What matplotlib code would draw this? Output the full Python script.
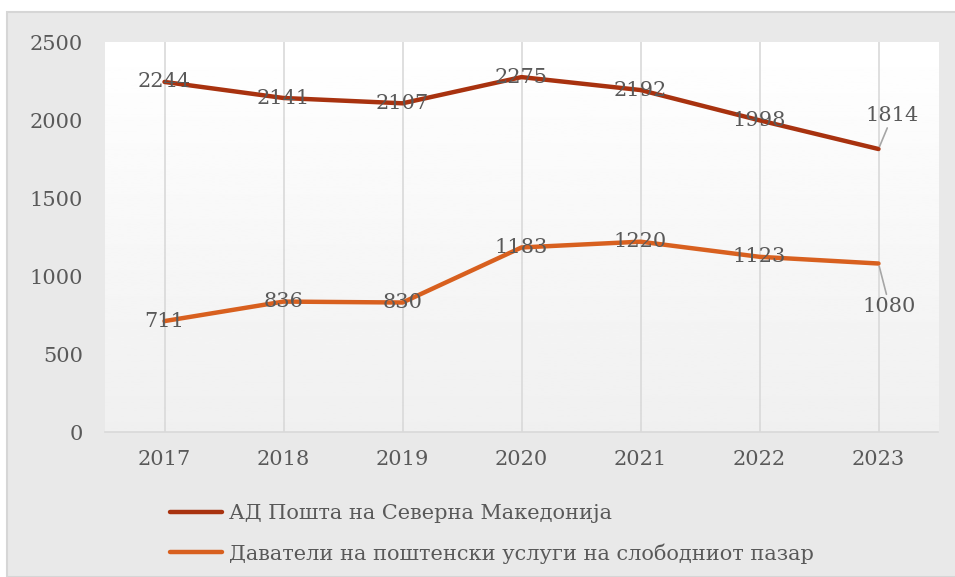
import numpy as np
import matplotlib
matplotlib.use("Agg")
import matplotlib.pyplot as plt
from matplotlib.patches import Rectangle
from matplotlib.lines import Line2D

years = ["2017", "2018", "2019", "2020", "2021", "2022", "2023"]
posta = [2244, 2141, 2107, 2275, 2192, 1998, 1814]
free_market = [711, 836, 830, 1183, 1220, 1123, 1080]
series_names = ["АД Пошта на Северна Македонија",
                "Даватели на поштенски услуги на слободниот пазар"]
colors = ["#a8320f", "#d8601f"]
text_col = "#595959"
fs = 15

plt.rcParams["font.family"] = ["DejaVu Serif"]

fig = plt.figure(figsize=(9.55, 5.77), dpi=100)
fig.patch.set_facecolor("white")
fig.patches.append(Rectangle((7 / 955, 0), 1, 1 - 12 / 577, transform=fig.transFigure,
                             facecolor="#e9e9e9", edgecolor="#d6d6d6", lw=1.5, zorder=-10))

ax = fig.add_axes([105 / 955, 1 - 432 / 577, 833 / 955, 390 / 577])
ax.set_zorder(1)
x = np.arange(len(years))
ax.set_xlim(-0.5, len(years) - 0.5)
ax.set_ylim(0, 2500)

# plot area gradient
grad = np.linspace(1.0, 0.94, 256).reshape(-1, 1)
ax.imshow(grad, cmap="gray", vmin=0, vmax=1, aspect="auto",
          extent=(-0.5, len(years) - 0.5, 0, 2500), zorder=0)

for xi in x:
    ax.axvline(xi, color="#d9d9d9", lw=1.2, zorder=1)

for s in ["top", "right", "left"]:
    ax.spines[s].set_visible(False)
ax.spines["bottom"].set_color("#d9d9d9")
ax.spines["bottom"].set_linewidth(1.2)

for vals, c in zip([posta, free_market], colors):
    ax.plot(x, vals, color=c, lw=3.2, solid_capstyle="round",
            solid_joinstyle="round", zorder=3)

ax.set_xticks(x)
ax.set_xticklabels(years)
ax.set_yticks(np.arange(0, 2501, 500))
ax.tick_params(length=0, labelsize=fs, colors=text_col)
ax.tick_params(axis="y", pad=16)
ax.tick_params(axis="x", pad=13)

# data labels, centred on the points
for vals in [posta, free_market]:
    for i, v in enumerate(vals[:-1]):
        ax.text(x[i], v, str(v), ha="center", va="center", fontsize=fs,
                color=text_col, zorder=4)

leader = dict(arrowstyle="-", color="#a6a6a6", lw=1.2, shrinkA=0, shrinkB=2)
ax.annotate(str(posta[-1]), (x[-1], posta[-1]), xytext=(10, 24),
            textcoords="offset points", ha="center", va="center", fontsize=fs,
            color=text_col, arrowprops=leader, zorder=4)
ax.annotate(str(free_market[-1]), (x[-1], free_market[-1]), xytext=(8, -31),
            textcoords="offset points", ha="center", va="center", fontsize=fs,
            color=text_col, arrowprops=leader, zorder=4)

handles = [Line2D([], [], color=c, lw=3.2, solid_capstyle="round") for c in colors]
fig.legend(handles, series_names, loc="upper left", bbox_to_anchor=(162 / 955, 1 - 496 / 577),
           frameon=False, fontsize=15, labelcolor=text_col, handlelength=2.5,
           handletextpad=0.3, labelspacing=0.95, borderaxespad=0)

fig.savefig("out.png", dpi=100)
